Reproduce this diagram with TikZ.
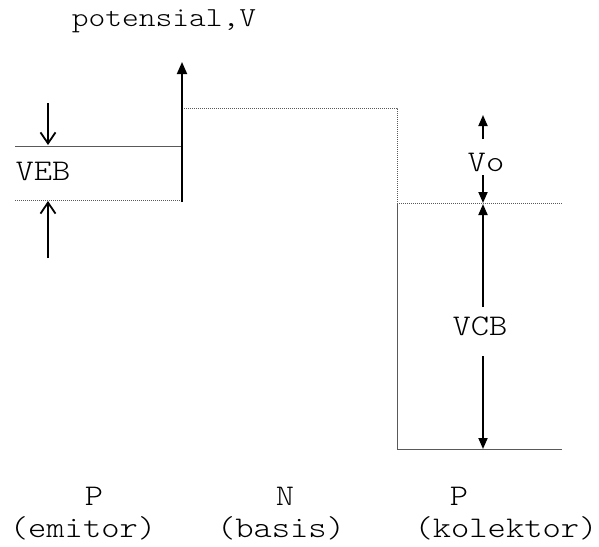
\documentclass[tikz,border=0pt]{standalone}
\usepackage{fontspec}
\setmonofont{Latin Modern Mono Light}[FakeStretch=1.16]
\usetikzlibrary{arrows.meta}

\begin{document}
\begin{tikzpicture}[x=1pt,y=-1pt,
    lbl/.style={font=\ttfamily\fontsize{30}{30}\selectfont, inner sep=0pt, anchor=base},
    ttl/.style={font=\ttfamily\fontsize{27.5}{27.5}\selectfont, inner sep=0pt, anchor=base},
    level/.style={draw=black!65, line width=1pt},
    dotlevel/.style={draw=black!65, line width=1pt, dash pattern=on 1pt off 1pt},
    barb/.style={line width=1.8pt, -{Straight Barb[length=11pt,width=15pt,line width=1.8pt]}},
    tip/.style={line width=1.8pt, -{Triangle[length=11pt,width=9pt]}}]
    \useasboundingbox (0,0) rectangle (599,546);

    % judul
    \node[ttl] (judul) at (164,27) {potensial,V};

    % titik-titik tingkat potensial
    \coordinate (e1) at (15,146);   \coordinate (e2) at (182,146);
    \coordinate (e3) at (15,200);   \coordinate (e4) at (182,200);
    \coordinate (b1) at (182,108);  \coordinate (b2) at (397,108);
    \coordinate (c1) at (397,203);  \coordinate (c2) at (562,203);
    \coordinate (c3) at (397,449);  \coordinate (c4) at (562,449);

    % tingkat emitor
    \draw[level] (e1) -- (e2);
    \draw[dotlevel] (e3) -- (e4);

    % tingkat basis
    \draw[dotlevel] (b1) -- (b2) -- (c1);

    % tingkat kolektor
    \draw[dotlevel] (c1) -- (c2);
    \draw[level] (c1) -- (c3) -- (c4);

    % sumbu potensial
    \coordinate (s0) at (182,202);
    \coordinate (s1) at (182,62);
    \draw[tip, -{Triangle[length=12pt,width=10pt]}] (s0) -- (s1);

    % VEB
    \node[lbl] (veb) at (43,180) {VEB};
    \coordinate (a1) at (48,103);  \coordinate (a2) at (48,145);
    \coordinate (a3) at (48,258);  \coordinate (a4) at (48,201);
    \draw[barb] (a1) -- (a2);
    \draw[barb] (a3) -- (a4);

    % Vo
    \node[lbl] (vo) at (486,171) {Vo};
    \coordinate (o1) at (483,139);  \coordinate (o2) at (483,115);
    \coordinate (o3) at (483,175);  \coordinate (o4) at (483,203);
    \draw[tip] (o1) -- (o2);
    \draw[tip] (o3) -- (o4);

    % VCB
    \node[lbl] (vcb) at (480,335) {VCB};
    \coordinate (k1) at (483,307);  \coordinate (k2) at (483,204);
    \coordinate (k3) at (483,356);  \coordinate (k4) at (483,449);
    \draw[tip] (k1) -- (k2);
    \draw[tip] (k3) -- (k4);

    % daerah
    \node[lbl] (pe) at (94,505)  {P};
    \node[lbl] (em) at (83,537)  {(emitor)};
    \node[lbl] (nb) at (285,505) {N};
    \node[lbl] (ba) at (281,537) {(basis)};
    \node[lbl] (pk) at (459,505) {P};
    \node[lbl] (ko) at (506,537) {(kolektor)};
\end{tikzpicture}
\end{document}
